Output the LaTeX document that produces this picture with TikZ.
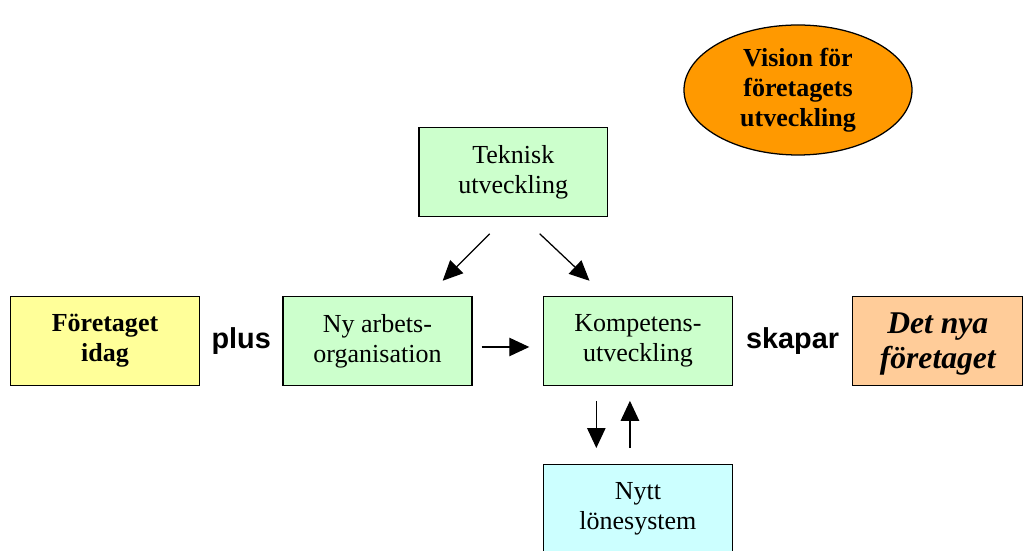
\documentclass[tikz,border=0pt]{standalone}
\usepackage{fontspec}
\setmainfont{Liberation Serif}
\setsansfont{Liberation Sans}
\usepackage{tikz}
\usetikzlibrary{shapes.geometric, arrows.meta, positioning, calc}
\definecolor{gulbox}{HTML}{FFFF99}
\definecolor{gronbox}{HTML}{CCFFCC}
\definecolor{blabox}{HTML}{CCFFFF}
\definecolor{persika}{HTML}{FFCC99}
\definecolor{orange}{HTML}{FF9900}
\tikzstyle{arrow} = [line width=0.9pt,-{Triangle[length=0.5cm,width=0.46cm]}]
\tikzstyle{block} = [rectangle, minimum width=4.72cm, minimum height=2.22cm, inner sep=0pt, align=center, draw=black, line width=0.9pt, font=\fontsize{18.5}{21.3}\selectfont]
\tikzstyle{oval} = [ellipse, minimum width=5.7cm, minimum height=3.25cm, inner sep=0pt, align=center, draw=black, line width=0.9pt, fill=orange, font=\fontsize{18.5}{21.3}\selectfont\bfseries]
\tikzstyle{ord} = [font=\sffamily\bfseries\fontsize{20.5}{24}\selectfont]

\begin{document}
\begin{tikzpicture}
    \useasboundingbox (0,0) rectangle (25.675,13.775);
        \node (idag) [block, fill=gulbox, font=\fontsize{18.5}{21.3}\selectfont\bfseries] at (2.625,5.25) {Företaget\\idag};
        \node (arborg) [block, fill=gronbox, right=2.06cm of idag] {Ny arbets-\\organisation};
        \node (komp) [block, fill=gronbox, right=1.76cm of arborg] {Kompetens-\\utveckling};
        \node (nya) [block, fill=persika, minimum width=4.25cm, right=2.98cm of komp, text depth=-0.08cm, font=\fontsize{22.5}{25}\selectfont\bfseries\itshape] {Det nya\\företaget};
        \node (teknik) [block, fill=gronbox, above=1.975cm of $(arborg.north)!0.5!(komp.north)$, xshift=0.14cm] {Teknisk\\utveckling};
        \node (lon) [block, fill=blabox, below=1.95cm of komp] {Nytt\\lönesystem};
        \node (vision) [oval] at (19.95,11.525) {Vision för\\företagets\\utveckling};
        \node (plus) [ord] at ($(idag.east)!0.5!(arborg.west)$) {plus};
        \node (skapar) [ord] at ($(komp.east)!0.5!(nya.west)$) {skapar};
        \draw [arrow] ([shift={(-0.59,-0.42)}]teknik.south) -- ([shift={(1.63,0.38)}]arborg.north);
        \draw [arrow] ([shift={(0.66,-0.42)}]teknik.south) -- ([shift={(-1.21,0.38)}]komp.north);
        \draw [arrow] ([shift={(0.23,-0.15)}]arborg.east) -- ([shift={(-0.34,-0.15)}]komp.west);
        \draw [arrow] ([shift={(-1.04,-0.37)}]komp.south) -- ([shift={(-1.04,0.4)}]lon.north);
        \draw [arrow] ([shift={(-0.2,0.4)}]lon.north) -- ([shift={(-0.2,-0.37)}]komp.south);
    \end{tikzpicture}
\end{document}
